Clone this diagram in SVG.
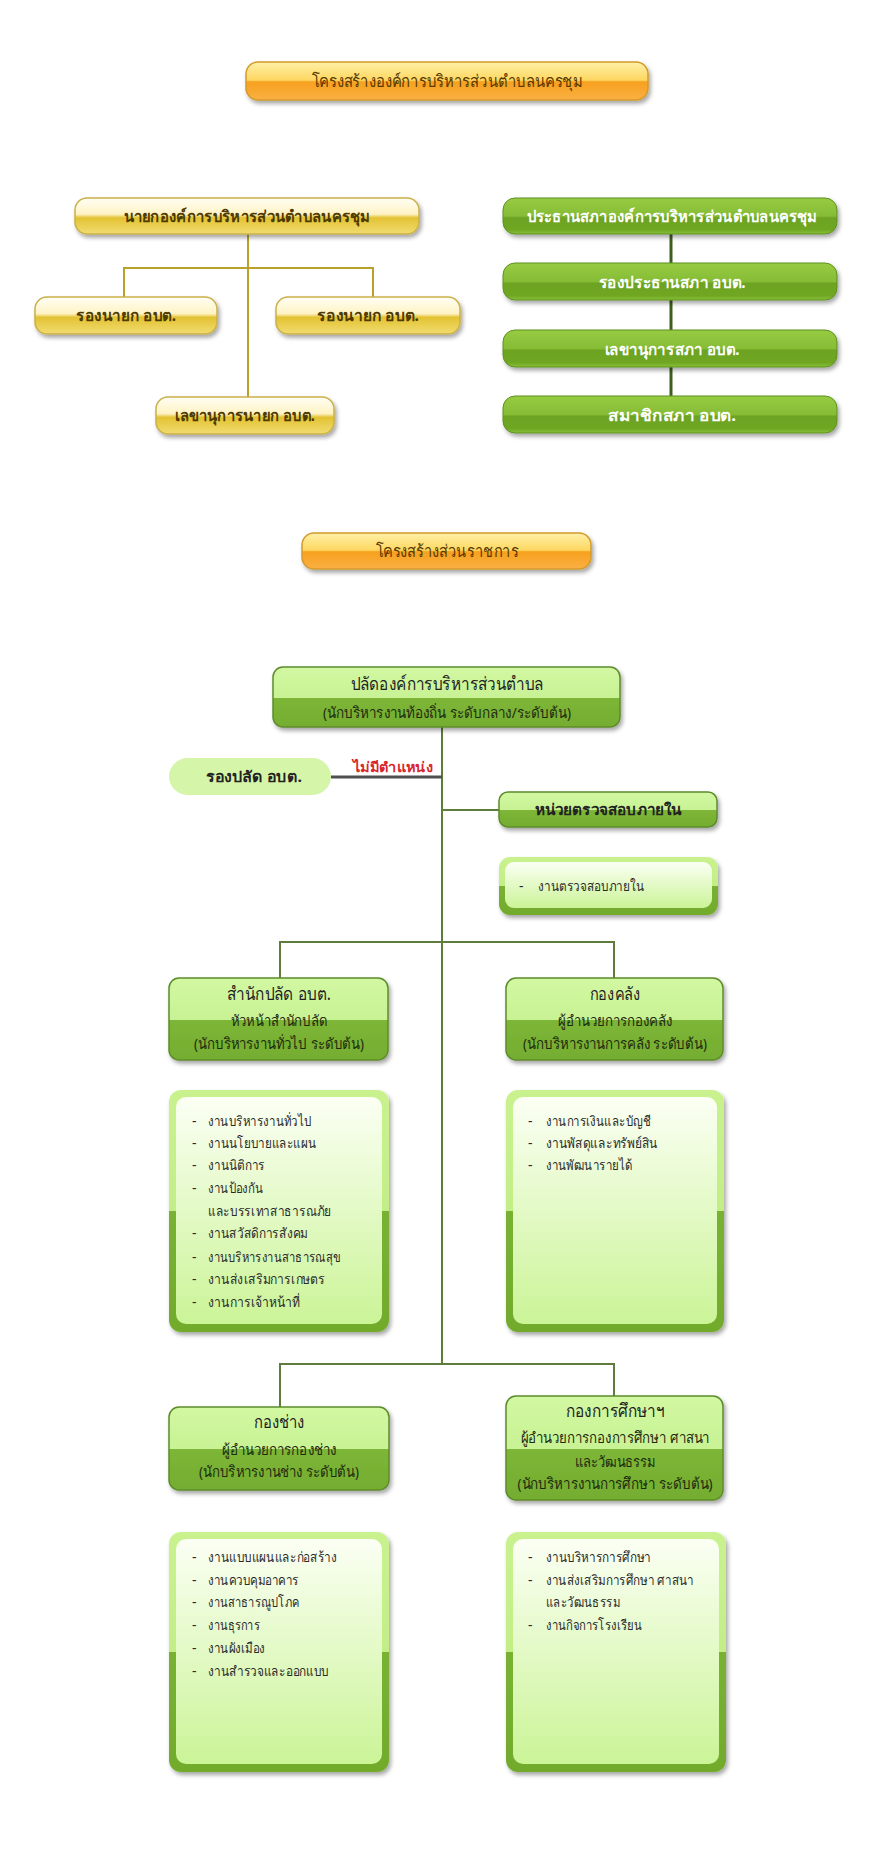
<svg xmlns="http://www.w3.org/2000/svg" width="878" height="1862" viewBox="0 0 878 1862">
<defs>
<linearGradient id="gOrange" x1="0" y1="0" x2="0" y2="1"><stop offset="0" stop-color="#fff0a8"/><stop offset="0.48" stop-color="#fdd760"/><stop offset="0.52" stop-color="#f7a11f"/><stop offset="1" stop-color="#f9b043"/></linearGradient>
<linearGradient id="gYellow" x1="0" y1="0" x2="0" y2="1"><stop offset="0" stop-color="#fffef5"/><stop offset="0.45" stop-color="#fff3c4"/><stop offset="0.55" stop-color="#e3c232"/><stop offset="1" stop-color="#f1dc72"/></linearGradient>
<linearGradient id="gGreen" x1="0" y1="0" x2="0" y2="1"><stop offset="0" stop-color="#97cb42"/><stop offset="0.5" stop-color="#86bc36"/><stop offset="0.55" stop-color="#6ca322"/><stop offset="0.88" stop-color="#6fa724"/><stop offset="1" stop-color="#88c03a"/></linearGradient>
<linearGradient id="gLight" x1="0" y1="0" x2="0" y2="1"><stop offset="0" stop-color="#d2f8a2"/><stop offset="0.51" stop-color="#c8f294"/><stop offset="0.51" stop-color="#7db637"/><stop offset="1" stop-color="#74ad2f"/></linearGradient>
<linearGradient id="gFrame" x1="0" y1="0" x2="0" y2="1"><stop offset="0" stop-color="#c9f28e"/><stop offset="0.5" stop-color="#c3ee86"/><stop offset="0.5" stop-color="#79b233"/><stop offset="1" stop-color="#72aa2c"/></linearGradient>
<linearGradient id="gPanel" x1="0" y1="0" x2="0" y2="1"><stop offset="0" stop-color="#fbfff4"/><stop offset="1" stop-color="#cbf497"/></linearGradient>
<filter id="sh" x="-10%" y="-20%" width="130%" height="160%"><feDropShadow dx="2" dy="3" stdDeviation="2" flood-color="#000" flood-opacity="0.35"/></filter>
</defs>
<style>
text{font-family:"Noto Sans","DejaVu Sans",sans-serif;text-anchor:middle}
.t{font-size:17px;fill:#5a3a00}
.ybox{fill:url(#gYellow);stroke:#c9b04a;stroke-width:1.5;filter:url(#sh)}
.obox{fill:url(#gOrange);stroke:#d49a2c;stroke-width:1.5;filter:url(#sh)}
.gbox{fill:url(#gGreen);stroke:#5f911f;stroke-width:1;filter:url(#sh)}
.lbox{fill:url(#gLight);stroke:#5d8c2c;stroke-width:1.5;filter:url(#sh)}
.frame{fill:url(#gFrame);filter:url(#sh)}
.panel{fill:url(#gPanel)}
.yt{font-size:16px;font-weight:bold;fill:#4d3a00}
.gt{font-size:16px;font-weight:bold;fill:#ffffff}
.h1{font-size:18px;fill:#222}
.h2{font-size:15px;fill:#1e2a10}
.bt{font-size:15px;font-weight:bold;fill:#222}
.li{font-size:14px;fill:#2a2a2a;text-anchor:start}
.red{font-size:14px;font-weight:bold;fill:#d9262b}
.cy{fill:none;stroke:#b9a12a;stroke-width:2}
.cg{fill:none;stroke:#3e5e1f;stroke-width:3}
.cl{fill:none;stroke:#5e7d3d;stroke-width:2}
.cd{fill:none;stroke:#505050;stroke-width:3}
</style>
<rect width="878" height="1862" fill="#ffffff"/>

<g id="connectors">
<path class="cy" d="M248 234V397"/>
<path class="cy" d="M124 297V268H373V297"/>
<path class="cg" d="M671 234V396"/>
<path class="cl" d="M442 727V1364"/>
<path class="cd" d="M331 777H442"/>
<path class="cl" d="M442 810H499"/>
<path class="cl" d="M280 978V942H614V978"/>
<path class="cl" d="M280 1407V1364H614V1396"/>
</g>

<g id="title1">
<rect class="obox" x="246" y="62" width="402" height="38" rx="12"/>
<text class="t" x="447" y="87" textLength="271" lengthAdjust="spacingAndGlyphs">โครงสร้างองค์การบริหารส่วนตำบลนครชุม</text>
</g>

<g id="nayok">
<rect class="ybox" x="75" y="198" width="344" height="36" rx="12"/>
<text class="yt" x="247" y="222" textLength="247" lengthAdjust="spacingAndGlyphs">นายกองค์การบริหารส่วนตำบลนครชุม</text>
</g>
<g id="rongnayok1">
<rect class="ybox" x="35" y="297" width="182" height="37" rx="12"/>
<text class="yt" x="126" y="321" textLength="100" lengthAdjust="spacingAndGlyphs">รองนายก อบต.</text>
</g>
<g id="rongnayok2">
<rect class="ybox" x="276" y="297" width="184" height="37" rx="12"/>
<text class="yt" x="368" y="321" textLength="102" lengthAdjust="spacingAndGlyphs">รองนายก อบต.</text>
</g>
<g id="lekhanayok">
<rect class="ybox" x="156" y="397" width="178" height="37" rx="12"/>
<text class="yt" x="245" y="421" textLength="140" lengthAdjust="spacingAndGlyphs">เลขานุการนายก อบต.</text>
</g>

<g id="prathan">
<rect class="gbox" x="503" y="198" width="334" height="36" rx="12"/>
<text class="gt" x="672" y="222" textLength="291" lengthAdjust="spacingAndGlyphs">ประธานสภาองค์การบริหารส่วนตำบลนครชุม</text>
</g>
<g id="rongprathan">
<rect class="gbox" x="503" y="263" width="334" height="37" rx="12"/>
<text class="gt" x="672" y="288" textLength="147" lengthAdjust="spacingAndGlyphs">รองประธานสภา อบต.</text>
</g>
<g id="lekhasapha">
<rect class="gbox" x="503" y="330" width="334" height="37" rx="12"/>
<text class="gt" x="672" y="355" textLength="135" lengthAdjust="spacingAndGlyphs">เลขานุการสภา อบต.</text>
</g>
<g id="samachik">
<rect class="gbox" x="503" y="396" width="334" height="37" rx="12"/>
<text class="gt" x="672" y="421" textLength="128" lengthAdjust="spacingAndGlyphs">สมาชิกสภา อบต.</text>
</g>

<g id="title2">
<rect class="obox" x="302" y="533" width="289" height="36" rx="12"/>
<text class="t" x="447" y="557" textLength="143" lengthAdjust="spacingAndGlyphs">โครงสร้างส่วนราชการ</text>
</g>

<g id="palad">
<rect class="lbox" x="273" y="667" width="347" height="60" rx="10"/>
<text class="h1" x="447" y="690" textLength="193" lengthAdjust="spacingAndGlyphs">ปลัดองค์การบริหารส่วนตำบล</text>
<text class="h2" x="447" y="718" textLength="248" lengthAdjust="spacingAndGlyphs">(นักบริหารงานท้องถิ่น ระดับกลาง/ระดับต้น)</text>
</g>

<g id="rongpalad">
<rect x="169" y="758" width="162" height="37" rx="18.5" fill="#d5f5a9"/>
<text class="bt" x="254" y="782" textLength="96" lengthAdjust="spacingAndGlyphs">รองปลัด อบต.</text>
<text class="red" x="393" y="772" textLength="80" lengthAdjust="spacingAndGlyphs">ไม่มีตำแหน่ง</text>
</g>

<g id="audit">
<rect class="lbox" x="499" y="792" width="218" height="35" rx="9"/>
<text class="bt" x="608" y="815" textLength="147" lengthAdjust="spacingAndGlyphs">หน่วยตรวจสอบภายใน</text>
</g>
<g id="audit-tasks">
<rect class="frame" x="499" y="857" width="219" height="58" rx="11"/>
<rect class="panel" x="505" y="862" width="207" height="46" rx="9"/>
<text class="li" x="519" y="891">-</text>
<text class="li" x="538" y="891" textLength="106" lengthAdjust="spacingAndGlyphs">งานตรวจสอบภายใน</text>
</g>

<g id="samnakpalad">
<rect class="lbox" x="169" y="978" width="219" height="82" rx="10"/>
<text class="h1" x="279" y="1000" textLength="104" lengthAdjust="spacingAndGlyphs">สำนักปลัด อบต.</text>
<text class="h2" x="279" y="1026" textLength="97" lengthAdjust="spacingAndGlyphs">หัวหน้าสำนักปลัด</text>
<text class="h2" x="279" y="1049" textLength="170" lengthAdjust="spacingAndGlyphs">(นักบริหารงานทั่วไป ระดับต้น)</text>
</g>
<g id="kongklang">
<rect class="lbox" x="506" y="978" width="217" height="82" rx="10"/>
<text class="h1" x="615" y="1000" textLength="51" lengthAdjust="spacingAndGlyphs">กองคลัง</text>
<text class="h2" x="615" y="1026" textLength="114" lengthAdjust="spacingAndGlyphs">ผู้อำนวยการกองคลัง</text>
<text class="h2" x="615" y="1049" textLength="184" lengthAdjust="spacingAndGlyphs">(นักบริหารงานการคลัง ระดับต้น)</text>
</g>

<g id="samnakpalad-tasks">
<rect class="frame" x="169" y="1090" width="220" height="242" rx="12"/>
<rect class="panel" x="176" y="1097" width="206" height="227" rx="10"/>
<text class="li" x="192" y="1126">-</text><text class="li" x="208" y="1126" textLength="103" lengthAdjust="spacingAndGlyphs">งานบริหารงานทั่วไป</text>
<text class="li" x="192" y="1148">-</text><text class="li" x="208" y="1148" textLength="108" lengthAdjust="spacingAndGlyphs">งานนโยบายและแผน</text>
<text class="li" x="192" y="1170">-</text><text class="li" x="208" y="1170" textLength="57" lengthAdjust="spacingAndGlyphs">งานนิติการ</text>
<text class="li" x="192" y="1193">-</text><text class="li" x="208" y="1193" textLength="55" lengthAdjust="spacingAndGlyphs">งานป้องกัน</text>
<text class="li" x="208" y="1216" textLength="123" lengthAdjust="spacingAndGlyphs">และบรรเทาสาธารณภัย</text>
<text class="li" x="192" y="1238">-</text><text class="li" x="208" y="1238" textLength="100" lengthAdjust="spacingAndGlyphs">งานสวัสดิการสังคม</text>
<text class="li" x="192" y="1262">-</text><text class="li" x="208" y="1262" textLength="133" lengthAdjust="spacingAndGlyphs">งานบริหารงานสาธารณสุข</text>
<text class="li" x="192" y="1284">-</text><text class="li" x="208" y="1284" textLength="117" lengthAdjust="spacingAndGlyphs">งานส่งเสริมการเกษตร</text>
<text class="li" x="192" y="1307">-</text><text class="li" x="208" y="1307" textLength="92" lengthAdjust="spacingAndGlyphs">งานการเจ้าหน้าที่</text>
</g>
<g id="kongklang-tasks">
<rect class="frame" x="506" y="1090" width="218" height="242" rx="12"/>
<rect class="panel" x="513" y="1097" width="204" height="227" rx="10"/>
<text class="li" x="528" y="1126">-</text><text class="li" x="546" y="1126" textLength="105" lengthAdjust="spacingAndGlyphs">งานการเงินและบัญชี</text>
<text class="li" x="528" y="1148">-</text><text class="li" x="546" y="1148" textLength="112" lengthAdjust="spacingAndGlyphs">งานพัสดุและทรัพย์สิน</text>
<text class="li" x="528" y="1170">-</text><text class="li" x="546" y="1170" textLength="86" lengthAdjust="spacingAndGlyphs">งานพัฒนารายได้</text>
</g>

<g id="kongchang">
<rect class="lbox" x="169" y="1407" width="220" height="83" rx="10"/>
<text class="h1" x="279" y="1428" textLength="51" lengthAdjust="spacingAndGlyphs">กองช่าง</text>
<text class="h2" x="279" y="1455" textLength="114" lengthAdjust="spacingAndGlyphs">ผู้อำนวยการกองช่าง</text>
<text class="h2" x="279" y="1477" textLength="160" lengthAdjust="spacingAndGlyphs">(นักบริหารงานช่าง ระดับต้น)</text>
</g>
<g id="kongsueksa">
<rect class="lbox" x="506" y="1396" width="217" height="104" rx="10"/>
<text class="h1" x="615" y="1417" textLength="99" lengthAdjust="spacingAndGlyphs">กองการศึกษาฯ</text>
<text class="h2" x="615" y="1443" textLength="189" lengthAdjust="spacingAndGlyphs">ผู้อำนวยการกองการศึกษา ศาสนา</text>
<text class="h2" x="615" y="1467" textLength="81" lengthAdjust="spacingAndGlyphs">และวัฒนธรรม</text>
<text class="h2" x="615" y="1489" textLength="195" lengthAdjust="spacingAndGlyphs">(นักบริหารงานการศึกษา ระดับต้น)</text>
</g>

<g id="kongchang-tasks">
<rect class="frame" x="169" y="1532" width="220" height="240" rx="12"/>
<rect class="panel" x="176" y="1539" width="206" height="225" rx="10"/>
<text class="li" x="192" y="1562">-</text><text class="li" x="208" y="1562" textLength="129" lengthAdjust="spacingAndGlyphs">งานแบบแผนและก่อสร้าง</text>
<text class="li" x="192" y="1585">-</text><text class="li" x="208" y="1585" textLength="91" lengthAdjust="spacingAndGlyphs">งานควบคุมอาคาร</text>
<text class="li" x="192" y="1607">-</text><text class="li" x="208" y="1607" textLength="91" lengthAdjust="spacingAndGlyphs">งานสาธารณูปโภค</text>
<text class="li" x="192" y="1630">-</text><text class="li" x="208" y="1630" textLength="52" lengthAdjust="spacingAndGlyphs">งานธุรการ</text>
<text class="li" x="192" y="1653">-</text><text class="li" x="208" y="1653" textLength="57" lengthAdjust="spacingAndGlyphs">งานผังเมือง</text>
<text class="li" x="192" y="1676">-</text><text class="li" x="208" y="1676" textLength="121" lengthAdjust="spacingAndGlyphs">งานสำรวจและออกแบบ</text>
</g>
<g id="kongsueksa-tasks">
<rect class="frame" x="506" y="1532" width="220" height="240" rx="12"/>
<rect class="panel" x="513" y="1539" width="206" height="225" rx="10"/>
<text class="li" x="528" y="1562">-</text><text class="li" x="546" y="1562" textLength="105" lengthAdjust="spacingAndGlyphs">งานบริหารการศึกษา</text>
<text class="li" x="528" y="1585">-</text><text class="li" x="546" y="1585" textLength="148" lengthAdjust="spacingAndGlyphs">งานส่งเสริมการศึกษา ศาสนา</text>
<text class="li" x="546" y="1607" textLength="74" lengthAdjust="spacingAndGlyphs">และวัฒนธรรม</text>
<text class="li" x="528" y="1630">-</text><text class="li" x="546" y="1630" textLength="96" lengthAdjust="spacingAndGlyphs">งานกิจการโรงเรียน</text>
</g>
</svg>
